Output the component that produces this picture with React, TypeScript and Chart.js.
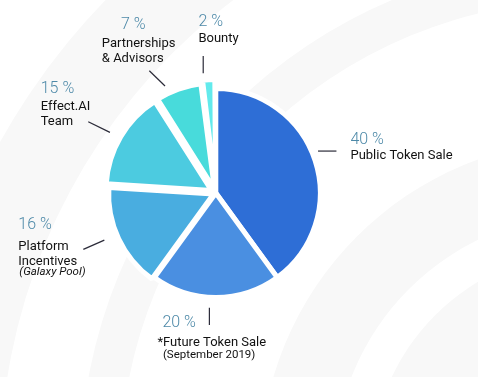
import React, { useEffect, useRef } from 'react';
import { Chart, registerables } from 'chart.js';

Chart.register(...registerables);

// ---- data ----
const categories = [
  'Public Token Sale',
  '*Future Token Sale',
  'Platform Incentives',
  'Effect.AI Team',
  'Partnerships & Advisors',
  'Bounty',
];
const nameLines = [
  ['Public Token Sale'],
  ['*Future Token Sale'],
  ['Platform', 'Incentives'],
  ['Effect.AI', 'Team'],
  ['Partnerships', '& Advisors'],
  ['Bounty'],
];
const subLabels = ['', '(September 2019)', '(Galaxy Pool)', '', '', ''];
const shares = [40, 20, 16, 15, 7, 2];

// ---- styles ----
const sliceColors = ['#2e6ed6', '#4a8fe1', '#49ade0', '#4ccbe0', '#48dbdb', '#62eaec'];
const sliceOffsets = [0, 0, 10, 20, 15, 19];
const pctColor = '#4d89a8';
const nameColor = '#121212';
const lineColor = '#2a2a38';

type Lay = { nudge: number; gap: number; vec: [number, number]; pct: [number, number]; name: [number, number]; sub?: [number, number] };
const labelLayout: Lay[] = [
  { nudge: -4.3, gap: 6, vec: [18.4, 0], pct: [14, -6.7], name: [14, 8.3] },
  { nudge: 3.2, gap: 10.4, vec: [0, 17.3], pct: [-47, 2.3], name: [-52, 21], sub: [-46.5, 33] },
  { nudge: 2.3, gap: 16.5, vec: [-21, 9.3], pct: [-65, -20.3], name: [-65, 0.2], sub: [-64, 26] },
  { nudge: -0.8, gap: 17.5, vec: [-21.7, -10.6], pct: [-47.5, -28.4], name: [-47.5, -12.2] },
  { nudge: -5.6, gap: 13.9, vec: [-15.7, -15.3], pct: [-28.3, -41.4], name: [-47.5, -24] },
  { nudge: -2.4, gap: 15.9, vec: [0, -17.3], pct: [-4.7, -30], name: [-4.8, -13.7] },
];

const bgPlugin = {
  id: 'bgRings',
  beforeDraw(chart: any) {
    const { ctx, width, height } = chart;
    ctx.save();
    ctx.fillStyle = '#f8f8f8';
    ctx.fillRect(0, 0, width, height);
    ctx.fillStyle = '#ffffff';
    const cx = 590, cy = 470;
    const bands: [number, number][] = [[219, 256], [330, 470], [510, 590], [675, 900]];
    for (const [r1, r2] of bands) {
      ctx.beginPath();
      ctx.arc(cx, cy, r2, 0, Math.PI * 2);
      ctx.arc(cx, cy, r1, 0, Math.PI * 2, true);
      ctx.fill('evenodd');
    }
    ctx.restore();
  },
};

const labelPlugin = {
  id: 'sliceLabels',
  afterDraw(chart: any) {
    const { ctx } = chart;
    const meta = chart.getDatasetMeta(0);
    ctx.save();
    meta.data.forEach((el: any, i: number) => {
      const { x, y, startAngle, endAngle, outerRadius } = el.getProps(['x', 'y', 'startAngle', 'endAngle', 'outerRadius'], true);
      const lay = labelLayout[i];
      const a = (startAngle + endAngle) / 2 + (lay.nudge * Math.PI) / 180;
      const r = outerRadius + lay.gap;
      const sx = x + Math.cos(a) * r;
      const sy = y + Math.sin(a) * r;
      const ex = sx + lay.vec[0];
      const ey = sy + lay.vec[1];
      ctx.strokeStyle = lineColor;
      ctx.lineWidth = 1.2;
      ctx.beginPath();
      ctx.moveTo(sx, sy);
      ctx.lineTo(ex, ey);
      ctx.stroke();

      ctx.textAlign = 'left';
      ctx.textBaseline = 'alphabetic';
      ctx.fillStyle = pctColor;
      ctx.font = '300 16px Roboto';
      ctx.fillText(shares[i] + ' %', ex + lay.pct[0], ey + lay.pct[1]);

      ctx.fillStyle = nameColor;
      ctx.font = '400 13px Roboto';
      nameLines[i].forEach((ln, k) => {
        ctx.fillText(ln, ex + lay.name[0], ey + lay.name[1] + k * 15);
      });
      if (subLabels[i] && lay.sub) {
        ctx.font = i === 2 ? 'italic 400 11.5px Roboto' : '400 11.5px Roboto';
        ctx.fillText(subLabels[i], ex + lay.sub[0], ey + lay.sub[1]);
      }
    });
    ctx.restore();
  },
};

export default function App() {
  const ref = useRef<HTMLCanvasElement>(null);
  useEffect(() => {
    document.body.style.margin = '0';
    const canvas = ref.current;
    if (!canvas) return;
    const chart = new Chart(canvas, {
      type: 'pie',
      data: {
        labels: categories,
        datasets: [
          {
            data: shares,
            backgroundColor: sliceColors,
            borderColor: '#ffffff',
            borderWidth: 5,
            hoverBorderWidth: 5,
            offset: sliceOffsets,
            hoverOffset: 0,
          } as any,
        ],
      },
      options: {
        responsive: false,
        animation: false,
        radius: 104.5,
        events: [],
        layout: { padding: { left: 0, right: 46.4, top: 9, bottom: 0 } },
        plugins: { legend: { display: false }, tooltip: { enabled: false } },
      } as any,
      plugins: [bgPlugin, labelPlugin],
    });
    return () => chart.destroy();
  }, []);
  return <canvas ref={ref} width={478} height={377} style={{ display: 'block' }} />;
}
